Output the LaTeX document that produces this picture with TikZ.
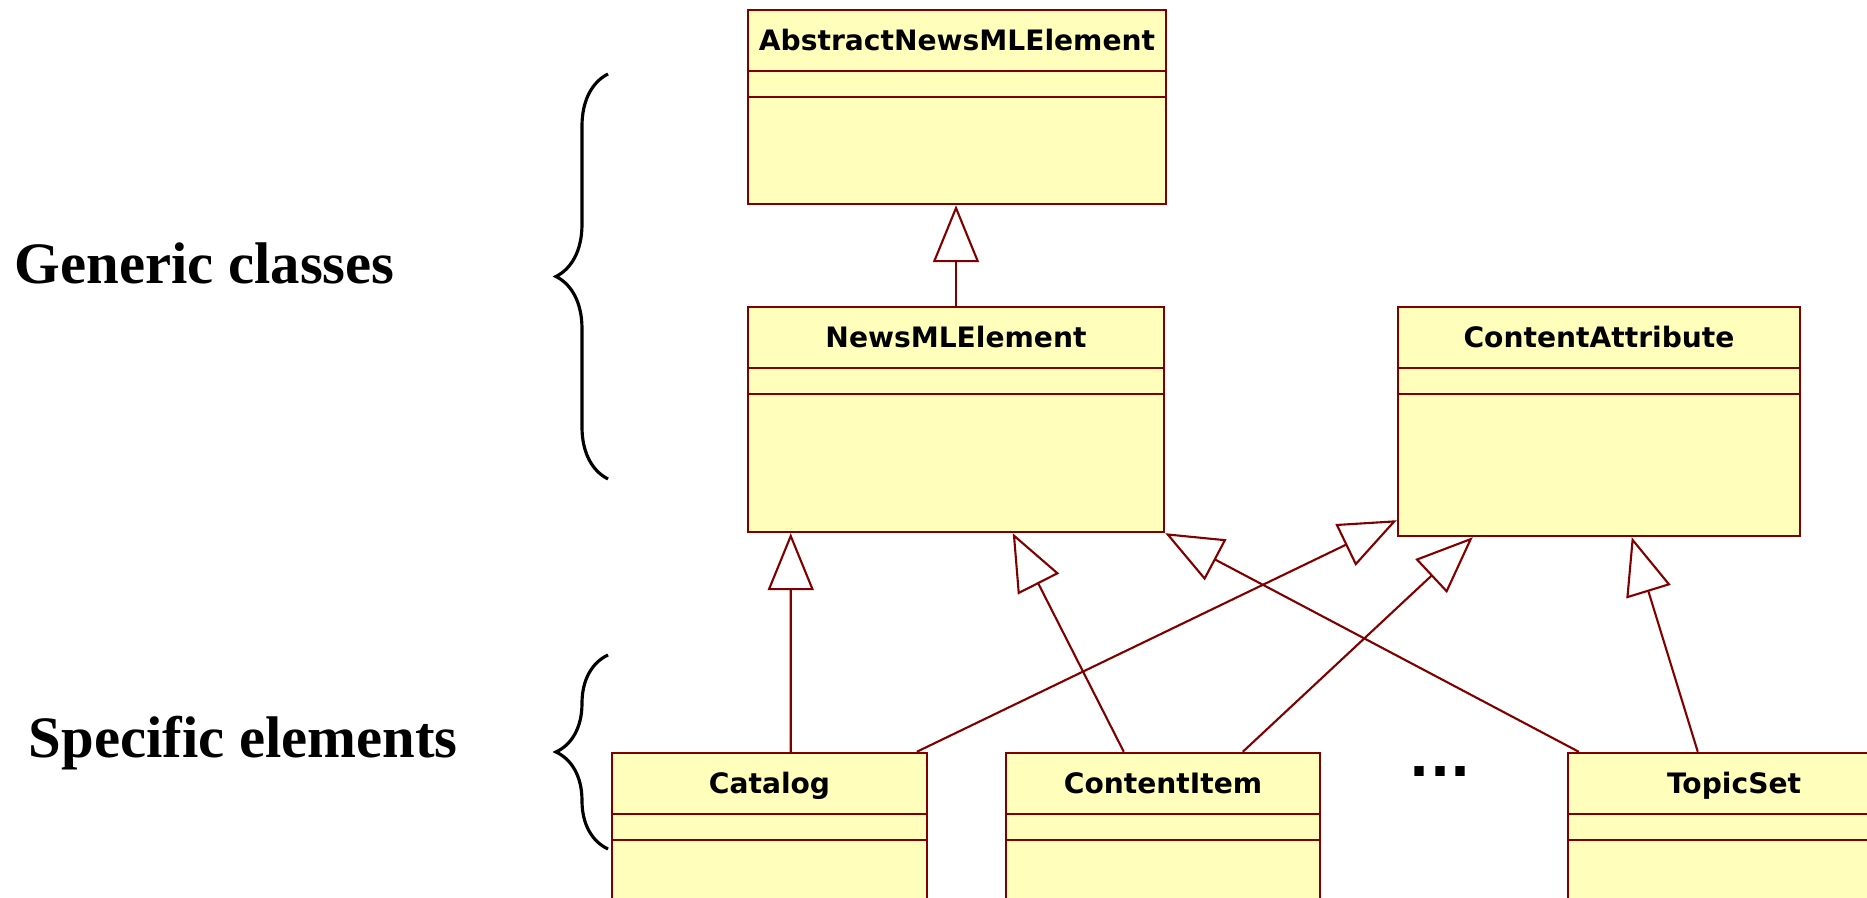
\documentclass[tikz,border=0pt]{standalone}
\usepackage{fontspec}
\setmainfont{Liberation Serif}
\newfontfamily\umlfont{DejaVu Sans}
\usetikzlibrary{arrows.meta,calc,decorations.pathreplacing}
\definecolor{umlline}{HTML}{800000}
\definecolor{umlfill}{HTML}{FFFFBB}
\tikzset{
  umlclass/.style = {draw=umlline, fill=umlfill, line width=0.65pt, inner sep=0pt},
  umlname/.style = {font=\umlfont\bfseries\fontsize{8}{10}\selectfont, inner sep=0pt, anchor=base},
  inherit/.style = {draw=umlline, line width=0.6pt, -{Triangle[open, length=0.57cm, width=0.46cm]}},
  group/.style = {font=\bfseries\fontsize{16.7}{20}\selectfont, inner sep=0pt, anchor=base west},
  groupbrace/.style = {line width=0.9pt, decorate, decoration={brace, amplitude=0.52cm}}
}
\begin{document}
\begin{tikzpicture}[x=0.01cm, y=-0.01cm]
\useasboundingbox (0,0) rectangle (1867,898);
\clip (0,0) rectangle (1867,898);

\node[umlclass, minimum width=4.18cm, minimum height=1.94cm] (abstract) at (957,107) {};
\node[umlclass, minimum width=4.16cm, minimum height=2.25cm] (newsml) at (956,419.5) {};
\node[umlclass, minimum width=4.02cm, minimum height=2.29cm] (contattr) at (1599,421.5) {};
\node[umlclass, minimum width=3.15cm, minimum height=2.07cm] (catalog) at (769.5,856.5) {};
\node[umlclass, minimum width=3.14cm, minimum height=2.07cm] (contitem) at (1163,856.5) {};
\node[umlclass, minimum width=3.32cm, minimum height=2.07cm] (topicset) at (1734,856.5) {};

\foreach \cls/\name in {abstract/AbstractNewsMLElement, newsml/NewsMLElement,
   contattr/ContentAttribute, catalog/Catalog, contitem/ContentItem, topicset/TopicSet}{
   \draw[umlline, line width=0.65pt] ($(\cls.north west)+(0,62)$) -- ($(\cls.north east)+(0,62)$)
      ($(\cls.north west)+(0,88)$) -- ($(\cls.north east)+(0,88)$);
   \node[umlname] (\cls-name) at ($(\cls.north)+(0,42)$) {\name};
   }

\draw[inherit] (newsml.north) -- (newsml.north |- abstract.south);
\draw[inherit] ($(catalog.north west)+(180,0)$) -- ($(newsml.south west)+(44,0)$);
\draw[inherit] ($(contitem.north west)+(119,0)$) -- ($(newsml.south west)+(266,0)$);
\draw[inherit] ($(topicset.north west)+(12,0)$) -- (newsml.south east);
\draw[inherit] ($(catalog.north west)+(306,0)$) -- ($(contattr.south west)+(0,-17)$);
\draw[inherit] ($(contitem.north west)+(238,0)$) -- ($(contattr.south west)+(76,0)$);
\draw[inherit] ($(topicset.north west)+(131,0)$) -- ($(contattr.south west)+(235,0)$);

\node[font=\umlfont\bfseries\fontsize{15}{17}\selectfont, inner sep=0pt] (more) at (1440,772) {...};

\draw[groupbrace] (608,479) -- (608,74);
\draw[groupbrace] (608,849) -- (608,655);
\node[group] (generic) at (14,284) {Generic classes};
\node[group] (specific) at (28,758) {Specific elements};
\end{tikzpicture}
\end{document}
